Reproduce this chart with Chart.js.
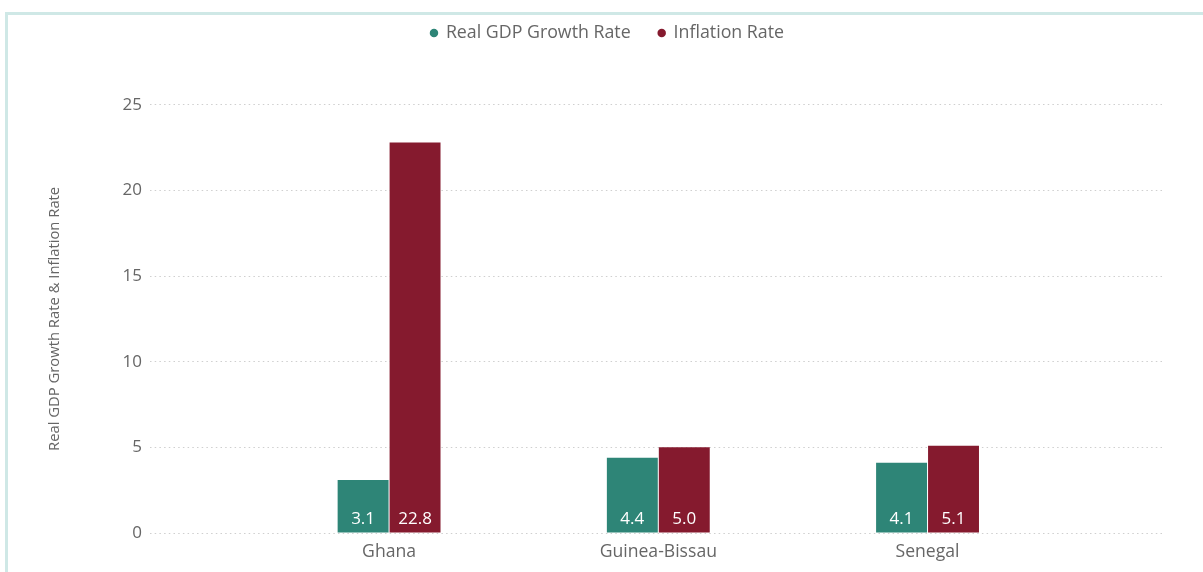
<!DOCTYPE html>
<html>
<head>
<meta charset="utf-8">
<script src="https://cdn.jsdelivr.net/npm/chart.js@4.4.1/dist/chart.umd.min.js"></script>
<style>
  html, body { margin: 0; padding: 0; background: #fff; overflow: hidden; }
  #frame { position: absolute; left: 5px; top: 12px; width: 1300px; height: 700px; border: 3px solid #cfe8e6; }
  #wrap { position: absolute; left: 0; top: 0; width: 1203px; height: 572px; }
</style>
</head>
<body>
<div id="frame"></div>
<div id="wrap"><canvas id="chart" width="1203" height="572"></canvas></div>
<script>
// Data
const countries = ['Ghana', 'Guinea-Bissau', 'Senegal'];
const gdpGrowth = [3.1, 4.4, 4.1];
const inflation = [22.8, 5.0, 5.1];
const yTicks = [0, 5, 10, 15, 20, 25];

const TEAL = '#2e8577';
const WINE = '#851a2e';
const TEXT = '#666666';
const FONT = "'Open Sans', 'Noto Sans', sans-serif";

// value labels sit inside each bar, near its base
const barLabels = {
    id: 'barLabels',
    afterDatasetsDraw(chart) {
        const ctx = chart.ctx;
        ctx.save();
        ctx.font = `17px ${FONT}`;
        ctx.fillStyle = '#ffffff';
        ctx.textAlign = 'center';
        ctx.textBaseline = 'middle';
        chart.data.datasets.forEach((ds, di) => {
            chart.getDatasetMeta(di).data.forEach((bar, i) => {
                ctx.fillText(ds.data[i].y.toFixed(1), bar.x, bar.base - 13);
            });
        });
        ctx.restore();
    }
};

// extra room between legend and plot, legend centred on the whole canvas
const legendSpace = {
    id: 'legendSpace',
    beforeUpdate(chart) {
        const lg = chart.legend;
        if (!lg || lg._spaced) return;
        const fit = lg.fit;
        lg.fit = function () { fit.call(this); this.height += 53; };
        lg._spaced = true;
    },
    afterLayout(chart) {
        const lg = chart.legend;
        lg.left += 25;
        lg.right += 25;
    }
};

const toPoints = vals => vals.map((v, i) => ({ x: i, y: v }));

new Chart(document.getElementById('chart'), {
    type: 'bar',
    data: {
        datasets: [
            { label: 'Real GDP Growth Rate', data: toPoints(gdpGrowth), backgroundColor: TEAL },
            { label: 'Inflation Rate', data: toPoints(inflation), backgroundColor: WINE }
        ]
    },
    options: {
        responsive: false,
        animation: false,
        categoryPercentage: 0.386,
        barPercentage: 0.98,
        layout: { padding: { top: -4, right: 38, left: 0, bottom: 0 } },
        plugins: {
            legend: {
                position: 'top',
                labels: {
                    usePointStyle: true,
                    pointStyle: 'circle',
                    boxWidth: 6,
                    boxHeight: 6,
                    padding: 28,
                    color: TEXT,
                    font: { family: FONT, size: 17.8 }
                }
            },
            tooltip: { enabled: false }
        },
        scales: {
            x: {
                type: 'linear',
                offset: false,
                min: -0.888,
                max: 2.882,
                grid: { display: false },
                border: { display: false },
                afterFit: s => { s.height = 39; },
                ticks: {
                    stepSize: 1,
                    includeBounds: false,
                    autoSkip: false,
                    maxRotation: 0,
                    padding: 0,
                    color: TEXT,
                    font: { family: FONT, size: 17.6 },
                    callback: v => countries[v] ?? ''
                }
            },
            y: {
                min: 0,
                max: 25,
                afterFit: s => { s.width = 150; },
                afterBuildTicks: s => { s.ticks = yTicks.map(v => ({ value: v })); },
                grid: { color: '#cfcfcf', lineWidth: 1, drawTicks: false },
                border: { display: false, dash: [1.5, 3.2] },
                ticks: {
                    padding: 8,
                    color: TEXT,
                    font: { family: FONT, size: 17 }
                },
                title: {
                    display: true,
                    text: 'Real GDP Growth Rate & Inflation Rate',
                    color: TEXT,
                    font: { family: FONT, size: 14.8 },
                    padding: { top: 46, bottom: 0 }
                }
            }
        }
    },
    plugins: [barLabels, legendSpace]
});
</script>
</body>
</html>
